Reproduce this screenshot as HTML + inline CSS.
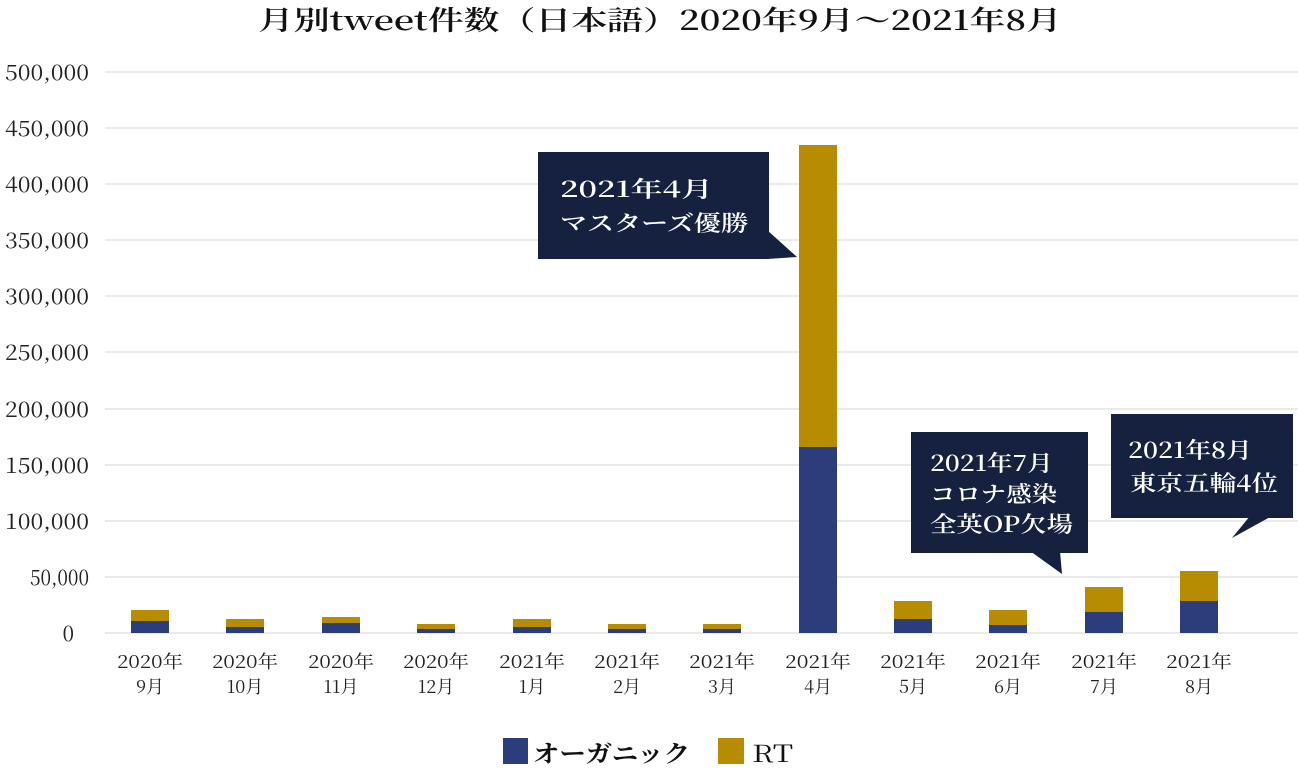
<!DOCTYPE html>
<html><head><meta charset="utf-8"><style>
html,body{margin:0;padding:0;background:#fff;}
svg{display:block;font-family:"Noto Serif CJK JP","Noto Serif CJK SC","Liberation Serif",serif;}
</style></head><body>
<svg width="1298" height="781" viewBox="0 0 1298 781" xmlns="http://www.w3.org/2000/svg">
<text x="258" y="30" font-size="27" font-weight="600" fill="#111" textLength="804" lengthAdjust="spacingAndGlyphs">月別tweet件数（日本語）2020年9月～2021年8月</text>
<g stroke="#e3e3e3" stroke-width="1.5">
<line x1="105" y1="72" x2="1298" y2="72"/><line x1="105" y1="128" x2="1298" y2="128"/>
<line x1="105" y1="184" x2="1298" y2="184"/><line x1="105" y1="240" x2="1298" y2="240"/>
<line x1="105" y1="296" x2="1298" y2="296"/><line x1="105" y1="352" x2="1298" y2="352"/>
<line x1="105" y1="409" x2="1298" y2="409"/><line x1="105" y1="465" x2="1298" y2="465"/>
<line x1="105" y1="521" x2="1298" y2="521"/><line x1="105" y1="577" x2="1298" y2="577"/>
<line x1="105" y1="633" x2="1298" y2="633"/>
</g>
<g font-size="21" fill="#222" text-anchor="end">
<text x="89" y="80" textLength="84" lengthAdjust="spacingAndGlyphs">500,000</text>
<text x="89" y="136" textLength="84" lengthAdjust="spacingAndGlyphs">450,000</text>
<text x="89" y="192" textLength="84" lengthAdjust="spacingAndGlyphs">400,000</text>
<text x="89" y="248" textLength="84" lengthAdjust="spacingAndGlyphs">350,000</text>
<text x="89" y="304" textLength="84" lengthAdjust="spacingAndGlyphs">300,000</text>
<text x="89" y="360" textLength="84" lengthAdjust="spacingAndGlyphs">250,000</text>
<text x="89" y="417" textLength="84" lengthAdjust="spacingAndGlyphs">200,000</text>
<text x="89" y="473" textLength="84" lengthAdjust="spacingAndGlyphs">150,000</text>
<text x="89" y="529" textLength="84" lengthAdjust="spacingAndGlyphs">100,000</text>
<text x="89" y="585" textLength="59" lengthAdjust="spacingAndGlyphs">50,000</text>
<text x="74" y="641">0</text>
</g>
<g>
<rect x="131" y="610" width="38" height="11" fill="#b88c00"/><rect x="131" y="621" width="38" height="12" fill="#2b3d7a"/>
<rect x="226" y="619" width="38" height="8" fill="#b88c00"/><rect x="226" y="627" width="38" height="6" fill="#2b3d7a"/>
<rect x="322" y="617" width="38" height="6" fill="#b88c00"/><rect x="322" y="623" width="38" height="10" fill="#2b3d7a"/>
<rect x="417" y="624" width="38" height="5" fill="#b88c00"/><rect x="417" y="629" width="38" height="4" fill="#2b3d7a"/>
<rect x="513" y="619" width="38" height="8" fill="#b88c00"/><rect x="513" y="627" width="38" height="6" fill="#2b3d7a"/>
<rect x="608" y="624" width="38" height="5" fill="#b88c00"/><rect x="608" y="629" width="38" height="4" fill="#2b3d7a"/>
<rect x="703" y="624" width="38" height="5" fill="#b88c00"/><rect x="703" y="629" width="38" height="4" fill="#2b3d7a"/>
<rect x="799" y="145" width="38" height="302" fill="#b88c00"/><rect x="799" y="447" width="38" height="186" fill="#2b3d7a"/>
<rect x="894" y="601" width="38" height="18" fill="#b88c00"/><rect x="894" y="619" width="38" height="14" fill="#2b3d7a"/>
<rect x="989" y="610" width="38" height="15" fill="#b88c00"/><rect x="989" y="625" width="38" height="8" fill="#2b3d7a"/>
<rect x="1085" y="587" width="38" height="25" fill="#b88c00"/><rect x="1085" y="612" width="38" height="21" fill="#2b3d7a"/>
<rect x="1180" y="571" width="38" height="30" fill="#b88c00"/><rect x="1180" y="601" width="38" height="32" fill="#2b3d7a"/>
</g>
<g font-size="18" fill="#222" text-anchor="middle">
<text x="150" y="668" textLength="66" lengthAdjust="spacingAndGlyphs">2020年</text><text x="150" y="693">9月</text>
<text x="245" y="668" textLength="66" lengthAdjust="spacingAndGlyphs">2020年</text><text x="245" y="693">10月</text>
<text x="341" y="668" textLength="66" lengthAdjust="spacingAndGlyphs">2020年</text><text x="341" y="693">11月</text>
<text x="436" y="668" textLength="66" lengthAdjust="spacingAndGlyphs">2020年</text><text x="436" y="693">12月</text>
<text x="532" y="668" textLength="66" lengthAdjust="spacingAndGlyphs">2021年</text><text x="532" y="693">1月</text>
<text x="627" y="668" textLength="66" lengthAdjust="spacingAndGlyphs">2021年</text><text x="627" y="693">2月</text>
<text x="722" y="668" textLength="66" lengthAdjust="spacingAndGlyphs">2021年</text><text x="722" y="693">3月</text>
<text x="818" y="668" textLength="66" lengthAdjust="spacingAndGlyphs">2021年</text><text x="818" y="693">4月</text>
<text x="913" y="668" textLength="66" lengthAdjust="spacingAndGlyphs">2021年</text><text x="913" y="693">5月</text>
<text x="1008" y="668" textLength="66" lengthAdjust="spacingAndGlyphs">2021年</text><text x="1008" y="693">6月</text>
<text x="1104" y="668" textLength="66" lengthAdjust="spacingAndGlyphs">2021年</text><text x="1104" y="693">7月</text>
<text x="1199" y="668" textLength="66" lengthAdjust="spacingAndGlyphs">2021年</text><text x="1199" y="693">8月</text>
</g>
<g fill="#15213f">
<rect x="538" y="152" width="231" height="107"/><polygon points="767,230 797,257 767,259"/>
<rect x="911" y="432" width="177" height="121"/><polygon points="1030,551 1062,574 1060,551"/>
<rect x="1111" y="414" width="182" height="104"/><polygon points="1250,516 1232,538 1272,516"/>
</g>
<g font-size="22" font-weight="600" fill="#fff">
<text x="560" y="197" textLength="153" lengthAdjust="spacingAndGlyphs">2021年4月</text>
<text x="560" y="231" textLength="188" lengthAdjust="spacingAndGlyphs">マスターズ優勝</text>
<text x="930" y="471" textLength="123" lengthAdjust="spacingAndGlyphs">2021年7月</text>
<text x="930" y="502" textLength="127" lengthAdjust="spacingAndGlyphs">コロナ感染</text>
<text x="930" y="532" textLength="143" lengthAdjust="spacingAndGlyphs">全英OP欠場</text>
<text x="1128" y="458" textLength="124" lengthAdjust="spacingAndGlyphs">2021年8月</text>
<text x="1130" y="491" textLength="148" lengthAdjust="spacingAndGlyphs">東京五輪4位</text>
</g>
<rect x="503" y="738" width="25" height="26" fill="#2b3d7a"/>
<text x="533" y="762" font-size="24" font-weight="bold" fill="#111" textLength="157" lengthAdjust="spacingAndGlyphs">オーガニック</text>
<rect x="718" y="738" width="26" height="26" fill="#b88c00"/>
<text x="752" y="762" font-size="24" fill="#111" textLength="41" lengthAdjust="spacingAndGlyphs">RT</text>
</svg>
</body></html>
